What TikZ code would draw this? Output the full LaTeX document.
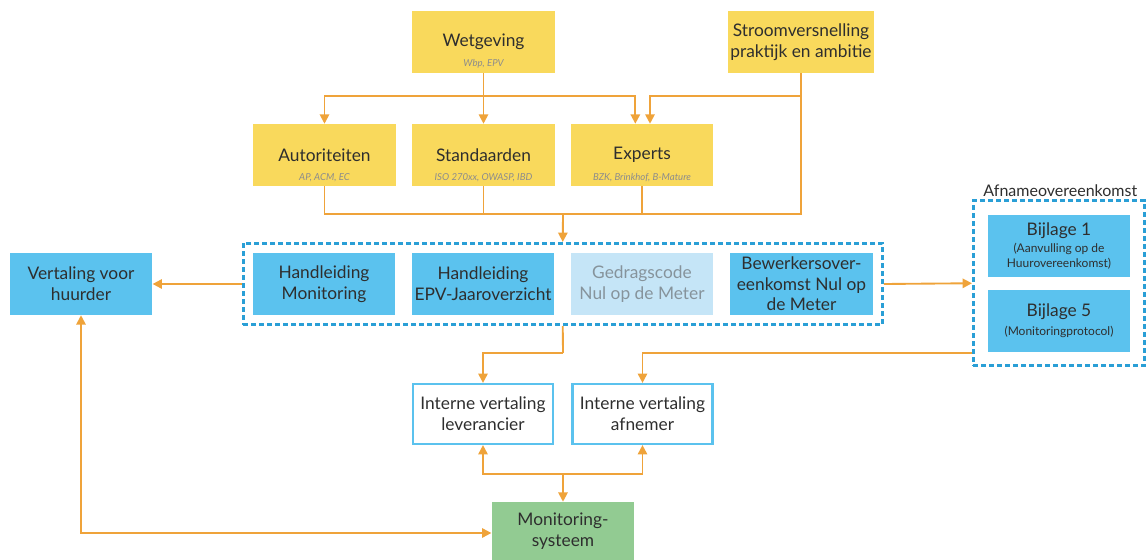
\documentclass[tikz,border=0pt]{standalone}
\usepackage{fontspec}
\setmainfont{Lato}
\usepackage{xcolor}
\usepackage{tikz}
\usetikzlibrary{arrows.meta, fit, positioning}
\definecolor{geel}{HTML}{F9D95C}
\definecolor{blauw}{HTML}{5BC2EE}
\definecolor{lichtblauw}{HTML}{C5E5F7}
\definecolor{groen}{HTML}{92CB92}
\definecolor{oranje}{HTML}{EFA33A}
\definecolor{stippel}{HTML}{2A9FD6}
\definecolor{tekst}{HTML}{2E2E2E}
\newcommand\klein{\fontsize{9}{10.5}\selectfont}
\tikzset{
    blok/.style={minimum width=107pt, minimum height=46.5pt, inner sep=2pt, align=center, text=tekst, font=\fontsize{13}{15.5}\selectfont},
    geelblok/.style={blok, fill=geel},
    blauwblok/.style={blok, fill=blauw},
    grijsblok/.style={blok, fill=lichtblauw, text=black!30!lichtblauw!60!gray},
    witblok/.style={blok, fill=white, draw=blauw, line width=1.6pt, minimum width=105pt, minimum height=45pt},
    groenblok/.style={blok, fill=groen, minimum height=43.5pt},
    bijlage/.style={blok, fill=blauw, font=\fontsize{13}{11}\selectfont},
    sub/.style={font=\fontsize{7.2}{8}\selectfont\itshape, text=black!45, inner sep=0pt},
    groep/.style={draw=stippel, line width=2.2pt, dash pattern=on 3.6pt off 2.4pt, inner sep=7pt},
    pijl/.style={draw=oranje, line width=1.4pt, -{Triangle[width=7pt, length=7pt]}},
    lijn/.style={draw=oranje, line width=1.4pt}
}

\begin{document}
\begin{tikzpicture}[x=0.75pt, y=-0.75pt]
    \useasboundingbox (0,0) rectangle (1147,560);
    \node[geelblok] (wet) at (483.5,42) {Wetgeving};
    \node[sub] (wetsub) at ([yshift=6.75pt]wet.south) {Wbp, EPV};
    \node[geelblok] (stroom) at (801,42) {Stroomversnelling\\praktijk en ambitie};
    \node[geelblok] (aut) at (324.5,155) {Autoriteiten};
    \node[sub] (autsub) at ([yshift=6.75pt]aut.south) {AP, ACM, EC};
    \node[geelblok] (std) at (483.5,155) {Standaarden};
    \node[sub] (stdsub) at ([yshift=6.75pt]std.south) {ISO 270xx, OWASP, IBD};
    \node[geelblok] (exp) at (642,155) {Experts};
    \node[sub] (expsub) at ([yshift=6.75pt]exp.south) {BZK, Brinkhof, B-Mature};

    \node[blauwblok] (vert) at (81,284) {Vertaling voor\\huurder};
    \node[blauwblok] (hmon) at (324,284) {Handleiding\\Monitoring};
    \node[blauwblok] (hepv) at (483,284) {Handleiding\\EPV-Jaaroverzicht};
    \node[grijsblok] (gedr) at (642,284) {Gedragscode\\Nul op de Meter};
    \node[blauwblok] (bewk) at (801.5,284) {Bewerkersover-\\eenkomst Nul op\\de Meter};
    \node[groep, fit=(hmon)(bewk)] (grp) {};

    \node[bijlage] (bij1) at (1059,246) {Bijlage 1\\[2pt]\klein (Aanvulling op de\\\klein Huurovereenkomst)};
    \node[bijlage] (bij5) at (1059,320.5) {Bijlage 5\\[3pt]\klein (Monitoringprotocol)};
    \node[groep, inner sep=10.5pt, fit=(bij1)(bij5)] (afn) {};
    \node[anchor=south, font=\fontsize{12}{14}\selectfont, text=tekst, inner sep=2pt] (afnlabel) at ([xshift=1pt]afn.north) {Afnameovereenkomst};

    \node[witblok] (ilev) at (483,414) {Interne vertaling\\leverancier};
    \node[witblok] (iafn) at (642.5,414) {Interne vertaling\\afnemer};
    \node[groenblok] (mon) at (563,531) {Monitoring-\\systeem};

    \coordinate (jtop) at (483.5,96);
    \coordinate (jstr) at (801,96);
    \coordinate (jmid) at (563,214);
    \coordinate (jlow) at (563,353);
    \coordinate (jmon) at (563,474);

    \draw[pijl] (wet.south) -- (std.north);
    \draw[pijl] (jtop) -| (aut.north);
    \draw[pijl] (jtop) -| ([xshift=-5pt]exp.north);
    \draw[pijl] (jstr) -| ([xshift=6pt]exp.north);
    \draw[lijn] (stroom.south) |- (jmid);
    \draw[lijn] (aut.south) |- (jmid);
    \draw[lijn] (std.south) -- (std.south |- jmid);
    \draw[lijn] (exp.south) -- (exp.south |- jmid);
    \draw[pijl] (jmid) -- (grp.north);

    \draw[pijl] (grp.west) -- (vert.east);
    \draw[pijl] (grp.east) -- (afn.west);
    \draw[lijn] (grp.south) -- (jlow);
    \draw[pijl] (afn.west |- jlow) -| (iafn.north);
    \draw[pijl] (jlow) -| (ilev.north);

    \draw[pijl] (jmon) -- (mon.north);
    \draw[pijl] (jmon) -| (ilev.south);
    \draw[pijl] (jmon) -| (iafn.south);
    \draw[pijl, {Triangle[width=7pt, length=7pt]}-{Triangle[width=7pt, length=7pt]}] (vert.south) |- ([yshift=-1.5pt]mon.west);
\end{tikzpicture}
\end{document}
